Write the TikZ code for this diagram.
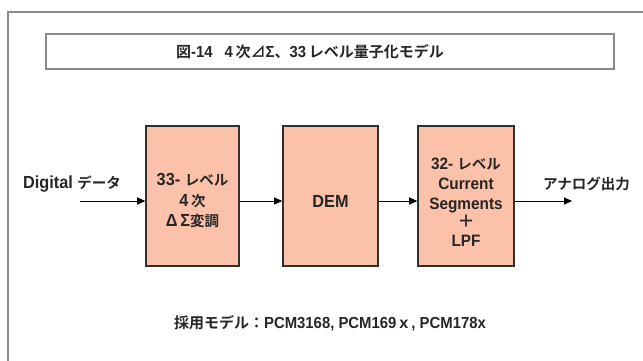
\documentclass[tikz,border=0pt]{standalone}
\usepackage{fontspec}
\setmainfont{Liberation Sans Bold}[FakeStretch=0.93]
\newfontfamily\jp{Noto Sans CJK JP Bold}
\newcommand{\J}[1]{{\jp\fontsize{14.5}{20}\selectfont #1}}
\newcommand{\Jt}[1]{{\jp\fontsize{15}{20}\selectfont #1}}
\usetikzlibrary{arrows.meta}
\definecolor{boxfill}{HTML}{FBC1A9}
\definecolor{framegray}{HTML}{8A8A8A}
\definecolor{boxedge}{HTML}{303030}
\begin{document}
\begin{tikzpicture}[x=1pt,y=-1pt,
  font=\fontsize{17.5}{20.5}\selectfont,
  block/.style={draw=boxedge, line width=1.6pt, fill=boxfill, minimum height=140pt, inner sep=0pt},
  btext/.style={align=center, inner sep=0pt, text=black!85},
  lbl/.style={inner sep=0pt, text=black!85, anchor=west},
  conn/.style={line width=0.9pt, -{Triangle[length=8pt,width=7pt]}}]
\useasboundingbox (0,0) rectangle (643,361);
% outer frame
\draw[framegray, line width=1.4pt] (8,361) -- (8,12) -- (643,12);
% title
\node[draw=framegray, line width=1.6pt, minimum width=568pt, minimum height=35pt, inner sep=0pt] (tbox) at (330,51.5) {};
\node[inner sep=0pt, text=black!85, font=\fontsize{16}{18}\selectfont] (title) at (310,51.5) {\Jt{図}-14\hspace{0.75em}4\,\Jt{次⊿}Σ\Jt{、}33\,\Jt{レベル量子化モデル}};
% blocks
\node[block, minimum width=93pt] (b1) at (192.5,196) {};
\node[block, minimum width=95pt] (b2) at (330.5,196) {};
\node[block, minimum width=96pt] (b3) at (466,196) {};
\node[btext] (t1) at (192.5,201) {33- \J{レベル}\\4\,\J{次}\\Δ\,Σ\J{変調}};
\node[btext] (t2) at (330.5,201) {DEM};
\node[btext, font=\fontsize{16.5}{20}\selectfont] (t3) at (466,202) {32- \J{レベル}\\Current\\Segments\\[-2pt]{\jp\fontsize{17}{20}\selectfont ＋}\\[-1pt]LPF};
% labels
\node[lbl] (din) at (23,184) {Digital \J{データ}};
\node[lbl] (aout) at (543,184) {\J{アナログ出力}};
\coordinate (in) at (80,201);
\coordinate (out) at (572,201);
% connectors
\draw[conn] (in) -- (b1.west |- in);
\draw[conn] (b1.east |- in) -- (b2.west |- in);
\draw[conn] (b2.east |- in) -- (b3.west |- in);
\draw[conn] (b3.east |- in) -- (out);
% bottom note
\node[inner sep=0pt, text=black!85, font=\fontsize{16}{16}\selectfont] (note) at (330,323) {{\jp\fontsize{15}{16}\selectfont 採用モデル：}PCM3168, PCM169{\jp\fontsize{15}{16}\selectfont ｘ}, PCM178x};
\end{tikzpicture}
\end{document}
